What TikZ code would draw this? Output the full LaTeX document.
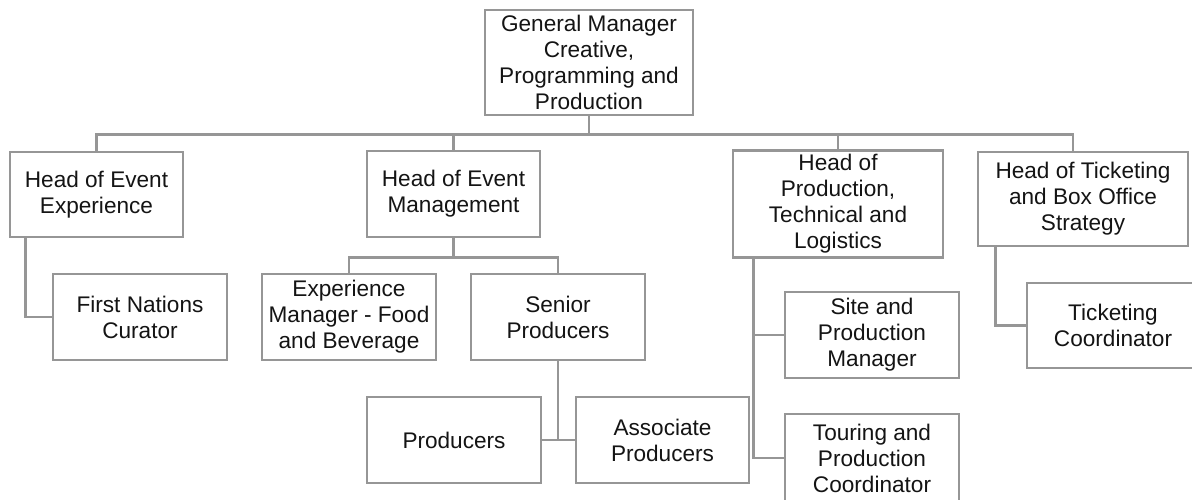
\documentclass[tikz,border=0pt]{standalone}
\usepackage{fontspec}
\setmainfont{Liberation Sans}
\usepackage{xcolor}
\usepackage{tikz}
\usetikzlibrary{positioning}

\definecolor{boxline}{RGB}{150,150,150}
\definecolor{boxtext}{RGB}{20,20,20}

\begin{document}
\begin{tikzpicture}[x=0.5pt, y=-0.5pt, line width=1.3pt,
        box/.style={draw=boxline, fill=white, rectangle, align=center, inner sep=2pt,
            text=boxtext, font=\fontsize{11.3}{13}\selectfont},
        link/.style={draw=boxline}]
        \useasboundingbox (0,0) rectangle (1192,499);

        % Top level
        \node[box, minimum width=104pt, minimum height=52.5pt] (gm) at (589,62.5) {General Manager\\Creative,\\Programming and\\Production};

        % Heads
        \node[box, minimum width=86.5pt, minimum height=42.5pt] (hee) at (96.5,194.5) {Head of Event\\Experience};
        \node[box, minimum width=86.5pt, minimum height=43pt] (hem) at (453.5,194) {Head of Event\\Management};
        \node[box, minimum width=105pt, minimum height=52pt] (hptl) at (838,204) {Head of\\Production,\\Technical and\\Logistics};
        \node[box, minimum width=105pt, minimum height=47pt] (htbo) at (1083,199) {Head of Ticketing\\and Box Office\\Strategy};

        % Staff
        \node[box, minimum width=87pt, minimum height=43pt] (fnc) at (140,317) {First Nations\\Curator};
        \node[box, minimum width=87pt, minimum height=43pt] (emfb) at (349,317) {Experience\\Manager - Food\\and Beverage};
        \node[box, minimum width=87pt, minimum height=43pt] (sp) at (558,317) {Senior\\Producers};
        \node[box, minimum width=87pt, minimum height=43pt] (prod) at (454,440) {Producers};
        \node[box, minimum width=86.5pt, minimum height=43pt] (ap) at (662.5,440) {Associate\\Producers};
        \node[box, minimum width=87pt, minimum height=43pt] (spm) at (872,335) {Site and\\Production\\Manager};
        \node[box, minimum width=87pt, minimum height=44pt] (tpc) at (872,458) {Touring and\\Production\\Coordinator};
        \node[box, minimum width=86pt, minimum height=42.5pt] (tc) at (1113,325.5) {Ticketing\\Coordinator};

        % Connectors
        \draw[link] (gm.south) -- ++(0,18) coordinate (bus);
        \draw[link] (bus) -| (hee.north);
        \draw[link] (bus) -| (hem.north);
        \draw[link] (bus) -| (hptl.north);
        \draw[link] (bus) -| ([xshift=-5pt]htbo.north);

        \draw[link] (hee.south west) ++(17,0) |- (fnc.west);

        \draw[link] (hem.south) -- ++(0,19) coordinate (hembus);
        \draw[link] (hembus) -| (emfb.north);
        \draw[link] (hembus) -| (sp.north);

        \draw[link] (sp.south) |- (prod.east);
        \draw[link] (sp.south) |- (ap.west);

        \draw[link] (hptl.south west) ++(22,0) coordinate (hptlbus) |- (spm.west);
        \draw[link] (hptlbus) |- (tpc.west);

        \draw[link] (htbo.south west) ++(19,0) |- (tc.west);
    \end{tikzpicture}
\end{document}
